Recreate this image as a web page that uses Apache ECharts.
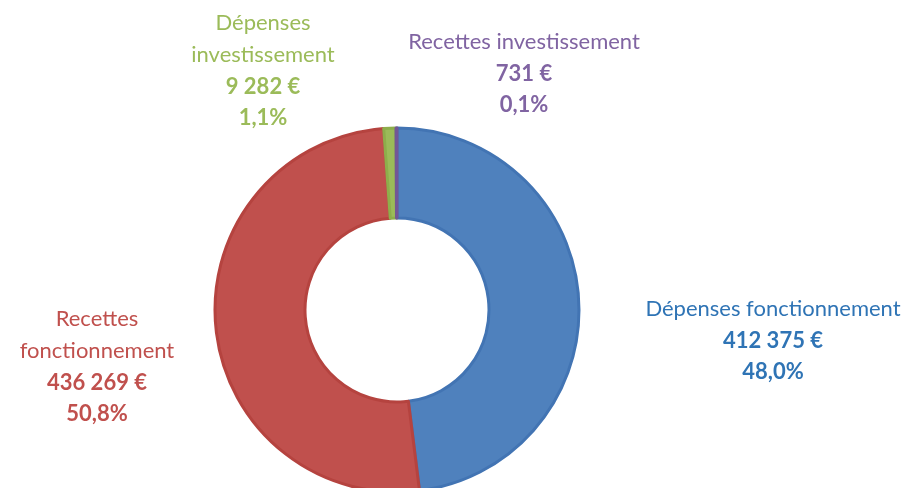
<!DOCTYPE html>
<html>
<head>
<meta charset="utf-8">
<script src="https://cdn.jsdelivr.net/npm/echarts@6/dist/echarts.min.js"></script>
<style>html,body{margin:0;padding:0;background:#fff}#c{width:914px;height:488px}</style>
</head>
<body>
<div id="c"></div>
<script>
const categories = ['Dépenses fonctionnement', 'Recettes fonctionnement', 'Dépenses investissement', 'Recettes investissement'];
const labelNames = ['Dépenses fonctionnement', 'Recettes\nfonctionnement', 'Dépenses\ninvestissement', 'Recettes investissement'];
const values = [412375, 436269, 9282, 731];

const fills = ['#4F81BD', '#C0504D', '#9BBB59', '#8064A2'];
const borders = ['#4274B3', '#B5433F', '#8DAE4B', '#735795'];
const textColors = ['#2F74B5', '#C0504D', '#9BBB59', '#8064A2'];
const labelPos = [[773, 340], [97, 366], [263, 70], [524, 73]];

const total = values.reduce((a, b) => a + b, 0);
const fmtNum = v => String(v).replace(/\B(?=(\d{3})+(?!\d))/g, ' ');
const fmtPct = v => (v / total * 100).toFixed(1).replace('.', ',') + '%';

const data = categories.map((c, i) => ({
  name: c,
  value: values[i],
  itemStyle: { color: fills[i], borderColor: borders[i], borderWidth: 3 },
  label: {
    color: textColors[i],
    rich: {
      n: { color: textColors[i], fontSize: 22, lineHeight: 32, fontFamily: 'Lato' },
      b: { color: textColors[i], fontSize: 22, lineHeight: 31, fontWeight: 'bold', fontFamily: 'Lato' }
    }
  }
}));

const chart = echarts.init(document.getElementById('c'), null, { renderer: 'canvas' });
chart.setOption({
  animation: false,
  series: [{
    type: 'pie',
    center: [397, 310],
    radius: [92, 182],
    startAngle: 90,
    clockwise: true,
    avoidLabelOverlap: false,
    labelLine: { show: false },
    label: {
      show: true,
      position: 'outside',
      fontFamily: 'Lato',
      align: 'center',
      formatter: p => '{n|' + labelNames[p.dataIndex].split('\n').join('}\n{n|') + '}\n{b|' + fmtNum(p.value) + ' €}\n{b|' + fmtPct(p.value) + '}'
    },
    labelLayout: p => ({
      x: labelPos[p.dataIndex][0],
      y: labelPos[p.dataIndex][1],
      align: 'center',
      verticalAlign: 'middle',
      hideOverlap: false
    }),
    emphasis: { disabled: true },
    data: data
  }]
});
</script>
</body>
</html>
